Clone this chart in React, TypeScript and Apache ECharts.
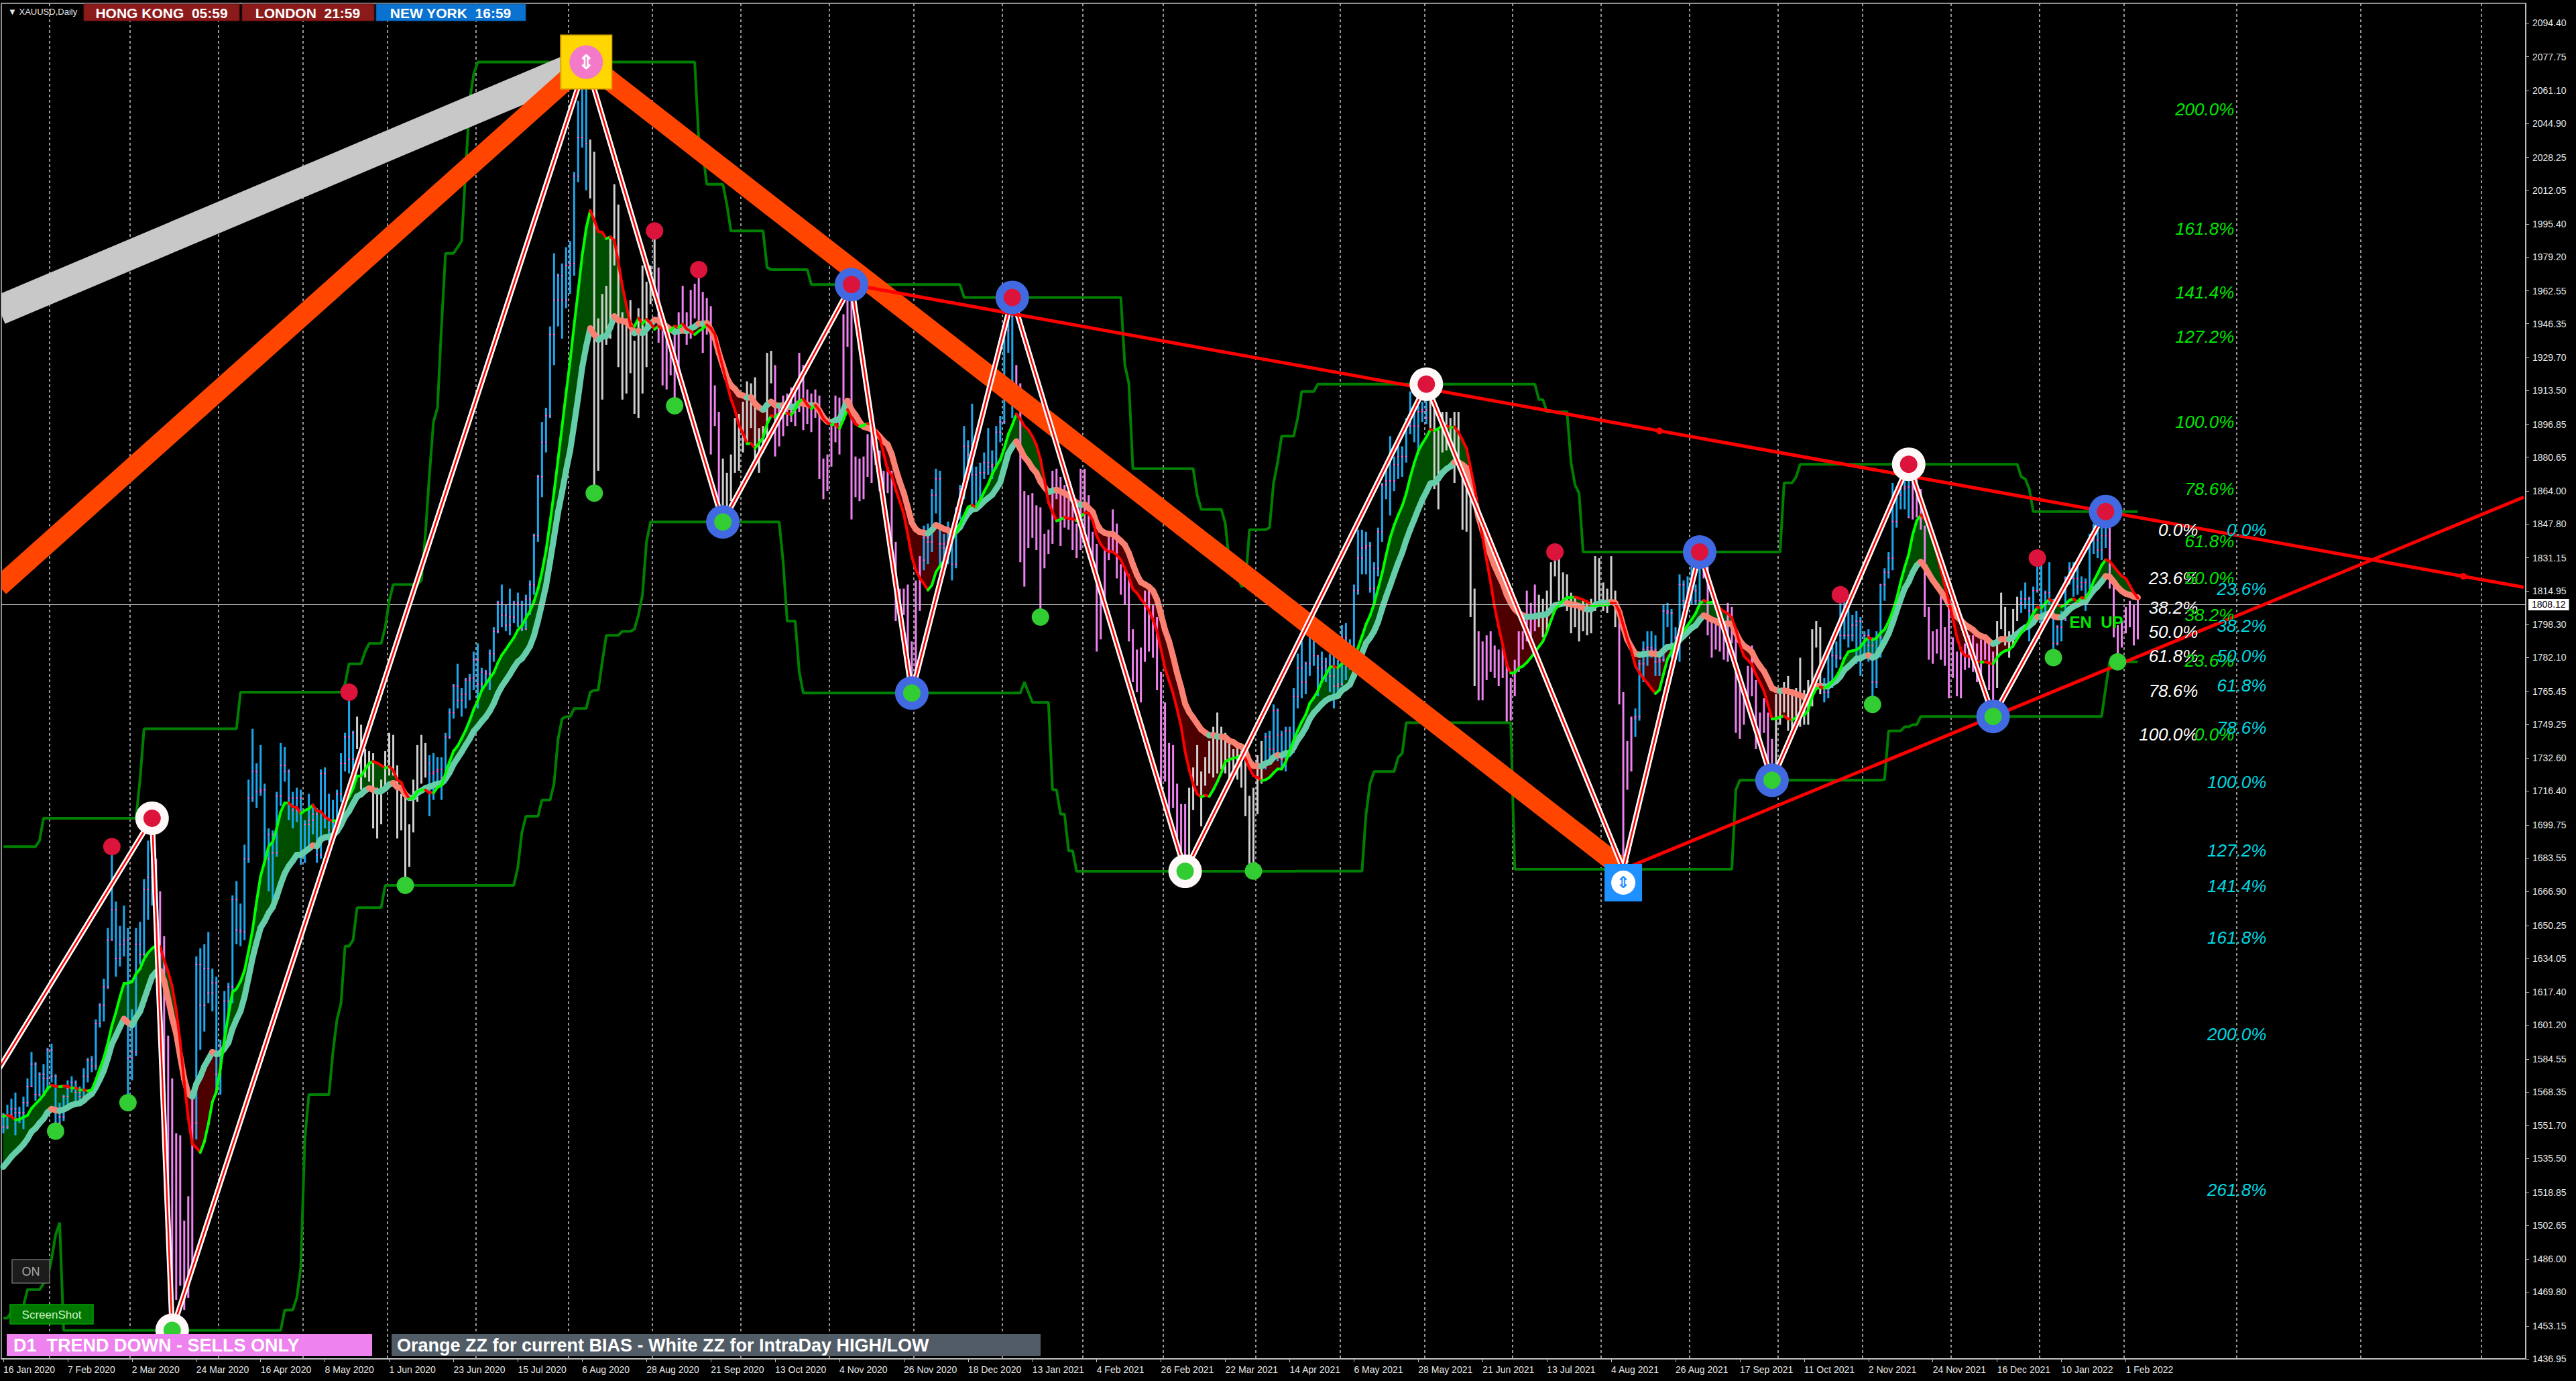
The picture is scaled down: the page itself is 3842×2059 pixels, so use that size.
import React, { useEffect, useRef } from "react";
import * as echarts from "echarts";

// ---------------- calendar ----------------
const SESSION_START = [2019, 11, 6]; // 6 Dec 2019 (warm-up bars used by the indicators)
const SESSION_END = [2022, 1, 4]; // 4 Feb 2022
const CLOSED_DAYS = ["2019-12-25", "2020-01-01", "2020-04-10", "2020-12-25", "2021-01-01", "2021-04-02", "2021-12-24"];
const WARMUP_COUNT = 27;
const FUTURE_SLOTS = 96;
const FUTURE_GRID_SLOTS = [556, 587, 617]; // 1 Mar, 1 Apr, 1 May 2022 in MT4's calendar-day projection
const MONTH_NAMES = ["Jan", "Feb", "Mar", "Apr", "May", "Jun", "Jul", "Aug", "Sep", "Oct", "Nov", "Dec"];

// ---------------- OHLC  [open, high, low, close] ----------------
const warmup = [
  [1474,1477,1459,1460],[1460,1465,1457,1462],[1462,1468,1460,1465],[1465,1477,1461,1475],[1475,1477,1464,1470],[1470,1480,1463,1476],
  [1476,1478,1472,1476],[1476,1479,1474,1476],[1476,1478,1472,1475],[1475,1481,1471,1479],[1479,1482,1474,1478],[1478,1489,1477,1487],
  [1487,1500,1486,1499],[1499,1512,1498,1511],[1511,1514,1505,1511],[1511,1519,1508,1515],[1515,1525,1511,1517],[1517,1530,1516,1528],
  [1528,1553,1525,1552],[1552,1582,1551,1566],[1566,1575,1557,1574],[1574,1611,1553,1556],[1556,1563,1536,1552],[1552,1563,1549,1562],
  [1562,1562,1545,1548],[1548,1549,1536,1545],[1545,1558,1543,1557],
];
const jan2020 = [
  [1557,1558,1548,1551],[1551,1562,1550,1557],[1557,1565,1556,1560],[1560,1568,1547,1558],[1558,1561,1553,1558],[1558,1566,1550,1563],
  [1563,1575,1561,1571],[1571,1588,1571,1582],[1582,1583,1564,1567],[1567,1578,1566,1577],[1577,1582,1567,1575],[1575,1590,1569,1589],
];
const feb2020 = [
  [1589,1592,1573,1576],[1576,1577,1549,1553],[1553,1563,1548,1556],[1556,1567,1554,1566],[1566,1574,1561,1570],[1570,1576,1568,1573],
  [1573,1574,1562,1568],[1568,1571,1562,1566],[1566,1580,1564,1576],[1576,1585,1573,1584],[1584,1586,1578,1581],[1581,1604,1579,1602],
  [1602,1612,1600,1611],[1611,1624,1603,1620],[1620,1649,1619,1643],[1643,1689,1643,1658],[1658,1662,1625,1634],[1634,1650,1630,1641],
  [1641,1660,1635,1643],[1643,1649,1563,1585],
];
const mar2020 = [
  [1585,1609,1574,1588],[1588,1649,1586,1641],[1641,1652,1631,1636],[1636,1673,1635,1668],[1668,1692,1653,1674],[1674,1703,1660,1679],
  [1679,1683,1637,1649],[1649,1667,1628,1635],[1635,1645,1560,1576],[1576,1596,1504,1529],[1529,1575,1451,1514],[1514,1548,1466,1526],
  [1526,1547,1473,1477],[1477,1505,1461,1470],[1470,1517,1467,1498],[1498,1566,1482,1553],[1553,1635,1545,1631],[1631,1639,1589,1611],
  [1611,1641,1598,1629],[1629,1647,1612,1617],[1617,1629,1608,1622],[1622,1625,1567,1577],
];
const apr2020 = [
  [1577,1594,1567,1591],[1591,1618,1588,1613],[1613,1622,1604,1620],[1620,1665,1612,1663],[1663,1672,1641,1648],[1648,1661,1640,1647],
  [1647,1690,1643,1683],[1683,1722,1681,1713],[1713,1747,1711,1726],[1726,1730,1708,1716],[1716,1739,1714,1717],[1717,1720,1680,1683],
  [1683,1698,1667,1695],[1695,1697,1659,1686],[1686,1716,1684,1714],[1714,1740,1709,1729],[1729,1738,1721,1726],[1726,1727,1702,1713],
  [1713,1716,1698,1707],[1707,1718,1701,1713],[1713,1717,1680,1686],
];
const may2020 = [
  [1686,1702,1681,1700],[1700,1715,1689,1702],[1702,1710,1695,1705],[1705,1708,1681,1685],[1685,1727,1683,1725],[1725,1728,1698,1703],
  [1703,1715,1691,1697],[1697,1712,1694,1701],[1701,1717,1698,1715],[1715,1735,1711,1730],[1730,1745,1726,1743],[1743,1765,1725,1732],
  [1732,1746,1726,1745],[1745,1753,1737,1747],[1747,1749,1717,1725],[1725,1737,1723,1735],[1735,1736,1721,1728],[1728,1735,1698,1709],
  [1709,1718,1693,1708],[1708,1722,1700,1718],[1718,1736,1717,1730],
];
const jun2020 = [
  [1730,1745,1724,1739],[1739,1744,1724,1727],[1727,1729,1693,1699],[1699,1715,1697,1714],[1714,1717,1670,1684],[1684,1700,1679,1697],
  [1697,1722,1696,1715],[1715,1739,1711,1737],[1737,1744,1720,1727],[1727,1740,1723,1730],[1730,1734,1704,1725],[1725,1735,1712,1726],
  [1726,1733,1718,1727],[1727,1733,1712,1723],[1723,1745,1720,1743],[1743,1757,1742,1755],[1755,1769,1752,1768],[1768,1779,1757,1761],
  [1761,1767,1753,1764],[1764,1772,1757,1771],[1771,1774,1761,1772],[1772,1785,1766,1781],
];
const jul2020 = [
  [1781,1789,1757,1769],[1769,1777,1765,1775],[1775,1776,1768,1774],[1774,1786,1766,1784],[1784,1797,1780,1795],[1795,1810,1794,1809],
  [1809,1818,1797,1803],[1803,1808,1795,1798],[1798,1816,1793,1802],[1802,1810,1799,1809],[1809,1814,1797,1808],[1808,1810,1795,1796],
  [1796,1813,1796,1811],[1811,1820,1803,1818],[1818,1843,1813,1842],[1842,1872,1839,1871],[1871,1898,1861,1888],[1888,1905,1883,1901],
  [1901,1945,1900,1941],[1941,1981,1926,1958],[1958,1971,1945,1970],[1970,1976,1939,1958],[1958,1984,1954,1975],
];
const aug2020 = [
  [1975,1987,1961,1976],[1976,2021,1970,2019],[2019,2056,2016,2038],[2038,2069,2033,2063],[2063,2075.1,2012,2035],[2035,2037,2008,2028],
  [2028,2031,1863,1911],[1911,1949,1874,1914],[1914,1961,1909,1954],[1954,1965,1936,1944],[1944,1989,1939,1985],[1985,2015,1975,2002],
  [2002,2005,1925,1929],[1929,1952,1909,1946],[1946,1949,1912,1940],[1940,1958,1922,1929],[1929,1938,1902,1907],[1907,1954,1900,1954],
  [1954,1975,1912,1929],[1929,1967,1925,1964],[1964,1975,1956,1968],
];
const sep2020 = [
  [1968,1992,1961,1970],[1970,1974,1937,1944],[1944,1948,1916,1931],[1931,1945,1914,1933],[1933,1937,1921,1929],[1929,1945,1906,1930],
  [1930,1952,1925,1947],[1947,1965,1942,1946],[1946,1952,1936,1940],[1940,1963,1939,1956],[1956,1966,1949,1954],[1954,1973,1948,1961],
  [1961,1962,1932,1944],[1944,1959,1941,1951],[1951,1955,1882,1912],[1912,1916,1896,1900],[1900,1903,1855,1862],[1862,1880,1848.8,1868],
  [1868,1873,1851,1861],[1861,1882,1859,1881],[1881,1900,1873,1898],[1898,1902,1874,1886],
];
const oct2020 = [
  [1886,1908,1883,1906],[1906,1918,1887,1899],[1899,1917,1895,1913],[1913,1920,1877,1877],[1877,1895,1873,1887],[1887,1896,1883,1893],
  [1893,1932,1890,1930],[1930,1933,1917,1922],[1922,1926,1881,1891],[1891,1906,1886,1903],[1903,1911,1891,1908],[1908,1912,1896,1899],
  [1899,1915,1898,1905],[1905,1916,1896,1907],[1907,1932,1903,1924],[1924,1926,1894,1904],[1904,1914,1897,1902],[1902,1912,1893,1902],
  [1902,1914,1900,1908],[1908,1911,1870,1878],[1878,1880,1860,1868],[1868,1882,1864,1879],
];
const nov2020 = [
  [1879,1897,1876,1894],[1894,1911,1888,1909],[1909,1910,1882,1904],[1904,1951,1902,1948],[1948,1960,1935,1951],[1951,1965.6,1850,1862],
  [1862,1881,1861,1877],[1877,1880,1859,1866],[1866,1881,1860,1873],[1873,1892,1871,1889],[1889,1898,1868,1887],[1887,1894,1877,1880],
  [1880,1884,1864,1871],[1871,1874,1857,1866],[1866,1876,1863,1871],[1871,1874,1829,1838],[1838,1839,1800,1806],[1806,1816,1805,1808],
  [1808,1816,1803,1811],[1811,1818,1775,1788],[1788,1790,1764.6,1777],
];
const dec2020 = [
  [1777,1820,1775,1815],[1815,1832,1805,1830],[1830,1847,1825,1841],[1841,1848,1828,1839],[1839,1865,1834,1862],[1862,1875,1853,1870],
  [1870,1874,1826,1838],[1838,1843,1823,1836],[1836,1849,1828,1839],[1839,1843,1820,1828],[1828,1856,1826,1855],[1855,1867,1850,1865],
  [1865,1896,1860,1886],[1886,1889,1876,1882],[1882,1907,1855,1872],[1872,1876,1856,1859],[1859,1878,1859,1873],[1873,1883,1870,1878],
  [1878,1895,1872,1876],[1876,1884,1870,1877],[1877,1896,1875,1893],[1893,1901,1888,1898],
];
const jan2021 = [
  [1898,1944,1897,1943],[1943,1952,1932,1950],[1950,1959.3,1900,1918],[1918,1926,1907,1913],[1913,1917,1829,1849],[1849,1864,1817,1844],
  [1844,1862,1836,1856],[1856,1863,1841,1845],[1845,1857,1835,1851],[1851,1856,1802,1828],[1828,1843,1826,1840],[1840,1845,1833,1840],
  [1840,1874,1838,1871],[1871,1875,1860,1869],[1869,1871,1837,1856],[1856,1867,1846,1855],[1855,1860,1845,1850],[1850,1857,1835,1843],
  [1843,1848,1831,1842],[1842,1875,1835,1847],
];
const feb2021 = [
  [1847,1875,1843,1860],[1860,1862,1831,1838],[1838,1844,1830,1835],[1835,1838,1785,1794],[1794,1816,1791,1814],[1814,1835,1808,1831],
  [1831,1843,1830,1838],[1838,1855,1834,1842],[1842,1848,1821,1826],[1826,1828,1813,1823],[1823,1826,1808,1819],[1819,1823,1790,1795],
  [1795,1796,1770,1775],[1775,1786,1765,1775],[1775,1787,1760,1784],[1784,1815,1780,1808],[1808,1817,1785,1805],[1805,1808,1782,1797],
  [1797,1802,1766,1770],[1770,1775,1717,1733],
];
const mar2021 = [
  [1733,1760,1721,1723],[1723,1740,1705,1737],[1737,1739,1708,1712],[1712,1720,1687,1697],[1697,1710,1687,1700],[1700,1710,1676.9,1683],
  [1683,1718,1682,1716],[1716,1728,1707,1726],[1726,1739,1719,1722],[1722,1726,1699,1719],[1719,1733,1719,1731],[1731,1741,1725,1731],
  [1731,1748,1723,1745],[1745,1755,1725,1736],[1736,1748,1727,1745],[1745,1745,1725,1738],[1738,1742,1720,1725],[1725,1737,1723,1734],
  [1734,1738,1722,1725],[1725,1736,1718,1732],[1732,1733,1704,1712],[1712,1714,1678,1684],[1684,1718,1677,1708],
];
const apr2021 = [
  [1708,1734,1705,1728],[1728,1741,1720,1728],[1728,1745,1727,1743],[1743,1746,1732,1737],[1737,1759,1734,1756],[1756,1757,1731,1744],
  [1744,1746,1727,1732],[1732,1748,1726,1746],[1746,1748,1733,1736],[1736,1767,1735,1763],[1763,1784,1757,1777],[1777,1790,1762,1770],
  [1770,1780,1764,1779],[1779,1797,1773,1793],[1793,1798,1778,1783],[1783,1783,1763,1777],[1777,1785,1771,1780],[1780,1782,1770,1778],
  [1778,1784,1765,1773],[1773,1790,1757,1768],[1768,1781,1763,1769],
];
const may2021 = [
  [1769,1798,1768,1792],[1792,1799,1771,1779],[1779,1791,1776,1784],[1784,1818,1781,1815],[1815,1845,1813,1831],[1831,1845,1823,1836],
  [1836,1844,1823,1837],[1837,1839,1814,1816],[1816,1829,1808,1826],[1826,1846,1822,1844],[1844,1868,1839,1867],[1867,1878,1860,1869],
  [1869,1891,1852,1869],[1869,1881,1864,1877],[1877,1890,1870,1881],[1881,1886,1871,1881],[1881,1900,1878,1898],[1898,1913,1892,1896],
  [1896,1904,1888,1896],[1896,1906,1882,1903],[1903,1908,1898,1904],
];
const jun2021 = [
  [1904,1916.6,1897,1900],[1900,1909,1895,1907],[1907,1909,1865,1871],[1871,1894,1855,1891],[1891,1903,1883,1899],[1899,1903,1884,1893],
  [1893,1900,1885,1888],[1888,1903,1868,1899],[1899,1903,1875,1877],[1877,1878,1845,1866],[1866,1867,1844,1859],[1859,1863,1802,1812],
  [1812,1816,1768,1774],[1774,1795,1761,1764],[1764,1790,1761,1782],[1782,1793,1771,1778],[1778,1795,1775,1779],[1779,1788,1772,1776],
  [1776,1786,1768,1781],[1781,1789,1772,1779],[1779,1780,1750,1761],[1761,1772,1751,1770],
];
const jul2021 = [
  [1770,1781,1763,1776],[1776,1795,1775,1787],[1787,1795,1786,1791],[1791,1815,1790,1796],[1796,1809,1792,1803],[1803,1818,1795,1803],
  [1803,1813,1797,1808],[1808,1811,1792,1805],[1805,1815,1794,1808],[1808,1829,1805,1825],[1825,1834,1822,1829],[1829,1832,1810,1812],
  [1812,1824,1808,1813],[1813,1823,1805,1810],[1810,1814,1794,1803],[1803,1812,1797,1806],[1806,1809,1790,1802],[1802,1810,1795,1797],
  [1797,1809,1793,1799],[1799,1811,1794,1806],[1806,1832,1805,1829],[1829,1831,1810,1814],
];
const aug2021 = [
  [1814,1819,1805,1813],[1813,1816,1804,1810],[1810,1832,1809,1813],[1813,1815,1797,1804],[1804,1805,1759,1763],[1763,1765,1677.9,1728],
  [1728,1741,1717,1730],[1730,1753,1726,1752],[1752,1757,1743,1753],[1753,1781,1751,1779],[1779,1790,1770,1786],[1786,1795,1778,1787],
  [1787,1795,1782,1786],[1786,1793,1773,1780],[1780,1784,1773,1781],[1781,1808,1780,1805],[1805,1809,1797,1804],[1804,1806,1782,1789],
  [1789,1797,1781,1792],[1792,1823,1780,1818],[1818,1820,1806,1810],[1810,1822,1805,1814],
];
const sep2021 = [
  [1814,1828,1808,1815],[1815,1818,1808,1810],[1810,1834,1809,1827],[1827,1831,1821,1823],[1823,1827,1793,1794],[1794,1802,1782,1789],
  [1789,1800,1786,1795],[1795,1801,1785,1787],[1787,1794,1781,1793],[1793,1809,1780,1804],[1804,1807,1789,1794],[1794,1795,1745,1754],
  [1754,1770,1742,1754],[1754,1767,1749,1764],[1764,1778,1760,1774],[1774,1788,1763,1768],[1768,1771,1737,1743],[1743,1755,1738,1750],
  [1750,1762,1745,1751],[1751,1755,1726,1734],[1734,1742,1721.7,1726],[1726,1764,1722,1757],
];
const oct2021 = [
  [1757,1766,1749,1761],[1761,1770,1755,1769],[1769,1773,1746,1760],[1760,1766,1746,1762],[1762,1767,1752,1756],[1756,1782,1748,1757],
  [1757,1766,1749,1754],[1754,1771,1749,1760],[1760,1796,1758,1793],[1793,1800,1787,1796],[1796,1797,1764,1768],[1768,1772,1760,1765],
  [1765,1785,1762,1769],[1769,1788,1767,1783],[1783,1790,1777,1782],[1782,1813,1781,1793],[1793,1810,1791,1807],[1807,1808,1787,1793],
  [1793,1803,1790,1798],[1798,1805,1779,1800],[1800,1802,1773,1783],
];
const nov2021 = [
  [1783,1795,1782,1793],[1793,1796,1780,1788],[1788,1792,1759,1770],[1770,1795,1767,1792],[1792,1818,1782,1818],[1818,1826,1810,1824],
  [1824,1834,1821,1831],[1831,1868,1825,1849],[1849,1866,1846,1862],[1862,1868,1855,1865],[1865,1871,1855,1866],[1866,1877.2,1851,1851],
  [1851,1871,1850,1868],[1868,1870,1851,1860],[1860,1865,1845,1846],[1846,1847,1802,1805],[1805,1807,1781,1790],[1790,1795,1779,1789],
  [1789,1796,1784,1792],[1792,1816,1781,1788],[1788,1797,1778,1785],[1785,1808,1762,1776],
];
const dec2021 = [
  [1776,1792,1772,1781],[1781,1785,1763,1768],[1768,1787,1762,1783],[1783,1789,1776,1779],[1779,1793,1777,1785],[1785,1793,1775,1783],
  [1783,1789,1770,1775],[1775,1791,1771,1782],[1782,1793,1781,1787],[1787,1792,1766,1771],[1771,1785,1753.1,1777],[1777,1800,1767,1799],
  [1799,1814,1796,1804],[1804,1807,1788,1791],[1791,1795,1782,1790],[1790,1806,1787,1803],[1803,1812,1800,1809],[1809,1815,1804,1811],
  [1811,1819,1806,1811],[1811,1812,1790,1805],[1805,1817,1800,1815],[1815,1831,1814,1829],
];
const jan2022 = [
  [1829,1831,1798,1801],[1801,1815,1799,1814],[1814,1829,1808,1810],[1810,1811,1782,1789],[1789,1798,1788,1797],[1797,1805,1790,1801],
  [1801,1822,1800,1821],[1821,1829,1818,1826],[1826,1829,1812,1821],[1821,1830,1813,1817],[1817,1822,1815,1819],[1819,1821,1805,1813],
  [1813,1843,1812,1841],[1841,1848,1833,1840],[1840,1847,1831,1835],[1835,1846,1830,1842],[1842,1853.9,1836,1848],[1848,1851,1816,1819],
  [1819,1820,1792,1796],[1796,1798,1780,1791],[1791,1800,1787,1797],
];
const feb2022 = [
  [1797,1807,1794,1801],[1801,1810,1797,1807],[1807,1808,1788,1804],[1804,1813,1791,1808.12],
];

// ---------------- price scale labels ----------------
const PRICE_TICKS = [
  2094.4, 2077.75, 2061.1, 2044.9, 2028.25, 2012.05, 1995.4, 1979.2, 1962.55, 1946.35, 1929.7, 1913.5, 1896.85, 1880.65,
  1864.0, 1847.8, 1831.15, 1814.95, 1798.3, 1782.1, 1765.45, 1749.25, 1732.6, 1716.4, 1699.75, 1683.55, 1666.9, 1650.25,
  1634.05, 1617.4, 1601.2, 1584.55, 1568.35, 1551.7, 1535.5, 1518.85, 1502.65, 1486.0, 1469.8, 1453.15, 1436.95,
];
const PRICE_MIN = 1436.95;
const PRICE_MAX = 2104.0;
const LABEL_EVERY = 16;

// ---------------- bar colouring: [first, last, 0 up | 1 down | 2 neutral] ----------------
const trendSegments = [
  [0, 37, 0], [38, 47, 1], [48, 87, 0], [88, 105, 2], [106, 145, 0], [146, 162, 2], [163, 178, 1], [179, 191, 2],
  [192, 228, 1], [229, 251, 0], [252, 294, 1], [295, 313, 2], [314, 354, 0], [355, 366, 2], [367, 381, 1], [382, 401, 2],
  [402, 405, 1], [406, 422, 0], [423, 440, 1], [441, 452, 2], [453, 474, 0], [475, 495, 1], [496, 501, 2], [502, 523, 0],
  [524, 531, 1],
];

// ---------------- zigzags (bar, "H"/"L" or explicit price) ----------------
const whiteZigzag = [[-1, 1580], [37, "H"], [42, "L"], [145, "H"], [179, "L"], [211, "H"], [226, "L"], [251, "H"], [294, "L"],
  [354, "H"], [403, "L"], [422, "H"], [440, "L"], [474, "H"], [495, "L"], [523, "H"]];
const orangeZigzag = [[-1, 1817], [145, "H"], [403, "L"]];
const grayZigzag = [[-1, 1953], [145, "H"]];
const trendDown = [[211, "H"], [523, "H"]];
const trendUp = [[403, "L"], [495, "L"]];
const trendAnchorDots = [412, 612];

// ---------------- swing markers ----------------
const ringsWhiteHigh = [37, 354, 474];
const ringsWhiteLow = [42, 294];
const ringsBlueHigh = [211, 251, 422, 523];
const ringsBlueLow = [179, 226, 440, 495];
const fractalHighs = [27, 86, 162, 173, 386, 457, 506];
const fractalLows = [13, 31, 100, 147, 167, 258, 311, 465, 510, 526];
const bigPeakBar = 145;
const bigLowBar = 403;

// ---------------- Fibonacci labels ----------------
const fibLevelsWhite = [0, 23.6, 38.2, 50, 61.8, 78.6, 100];
const fibLevelsGreen = [0, 23.6, 38.2, 50, 61.8, 78.6, 100, 127.2, 141.4, 161.8, 200];
const fibLevelsCyan = [0, 23.6, 38.2, 50, 61.8, 78.6, 100, 127.2, 141.4, 161.8, 200, 261.8];
const fibWhite = { p0: 1853.9, p100: 1753.1, slot: 546, color: "#FFFFFF" };
const fibGreen = { p0: 1753.1, p100: 1907.0, slot: 555, color: "#00E600" };
const fibCyan = { p0: 1853.9, p100: 1729.8, slot: 563, color: "#00D8E0" };
const statusText = { text: "EN  UP", slot: 514, price: 1799.4 };

// ---------------- indicator settings ----------------
const FAST_PERIOD = 10;
const SLOW_PERIOD = 20;
const CHANNEL_HALF = 27;

function buildCalendar() {
  const out = [];
  const start = Date.UTC(SESSION_START[0], SESSION_START[1], SESSION_START[2]);
  const end = Date.UTC(SESSION_END[0], SESSION_END[1], SESSION_END[2]);
  for (let t = start; t <= end; t += 86400000) {
    const d = new Date(t);
    const wd = d.getUTCDay();
    if (wd === 0 || wd === 6) continue;
    const iso = d.toISOString().slice(0, 10);
    if (CLOSED_DAYS.indexOf(iso) >= 0) continue;
    out.push({ y: d.getUTCFullYear(), m: d.getUTCMonth(), d: d.getUTCDate() });
  }
  return out;
}

export default function App() {
  const ref = useRef(null);
  useEffect(() => {
    document.body.style.margin = "0";
    document.body.style.background = "#000";
    const el = ref.current;
    if (!el) return;
    const chart = echarts.init(el, null, { renderer: "svg" });

    const all = [].concat(warmup, jan2020, feb2020, mar2020, apr2020, may2020, jun2020, jul2020, aug2020, sep2020, oct2020,
      nov2020, dec2020, jan2021, feb2021, mar2021, apr2021, may2021, jun2021, jul2021, aug2021, sep2021, oct2021, nov2021,
      dec2021, jan2022, feb2022);
    const cal = buildCalendar().slice(WARMUP_COUNT);
    const bars = all.slice(WARMUP_COUNT);
    const n = bars.length;
    const cats = [];
    const gridSlots = {};
    for (let i = 0; i < n; i++) {
      const c = cal[i] || { y: 0, m: 0, d: 0 };
      cats.push(c.d + " " + MONTH_NAMES[c.m] + " " + c.y);
      if (i > 0 && cal[i - 1] && cal[i - 1].m !== c.m) gridSlots[i] = true;
    }
    FUTURE_GRID_SLOTS.forEach((s) => { gridSlots[s] = true; });
    for (let k = 1; k <= FUTURE_SLOTS; k++) cats.push("+" + k);

    // indicators
    const closesAll = all.map((b) => b[3]);
    const fastAll = closesAll.map((_, i) => {
      const s = Math.max(0, i - FAST_PERIOD + 1);
      let sum = 0;
      for (let j = s; j <= i; j++) sum += closesAll[j];
      return sum / (i - s + 1);
    });
    const alpha = 2 / (SLOW_PERIOD + 1);
    const slowAll = [];
    closesAll.forEach((c, i) => slowAll.push(i === 0 ? c : slowAll[i - 1] + alpha * (c - slowAll[i - 1])));
    const fast = fastAll.slice(WARMUP_COUNT);
    const slow = slowAll.slice(WARMUP_COUNT);
    const upper = [];
    const lower = [];
    for (let i = 0; i < n; i++) {
      const g = i + WARMUP_COUNT;
      let hi = -Infinity, lo = Infinity;
      for (let j = Math.max(0, g - CHANNEL_HALF); j <= Math.min(all.length - 1, g + CHANNEL_HALF); j++) {
        hi = Math.max(hi, all[j][1]);
        lo = Math.min(lo, all[j][2]);
      }
      upper.push([i, hi]);
      lower.push([i, lo]);
    }

    const trend = new Array(n).fill(2);
    trendSegments.forEach(([a, b, t]) => { for (let i = a; i <= b && i < n; i++) trend[i] = t; });

    const resolve = (pts) => pts.map(([b, v]) => [b, v === "H" ? bars[b][1] : v === "L" ? bars[b][2] : v]);
    const extend = (pts, toSlot) => {
      const [a, b] = resolve(pts);
      const slope = (b[1] - a[1]) / (b[0] - a[0]);
      return [a, [toSlot, a[1] + slope * (toSlot - a[0])]];
    };
    const lastSlot = n + FUTURE_SLOTS - 1;
    const downLine = extend(trendDown, lastSlot);
    const upLine = extend(trendUp, lastSlot);
    const downSlope = (downLine[1][1] - downLine[0][1]) / (downLine[1][0] - downLine[0][0]);

    const clipOf = (params) => ({ type: "rect", shape: { x: params.coordSys.x, y: params.coordSys.y, width: params.coordSys.width, height: params.coordSys.height } });
    const BLUE = "#1AA8EE", VIOLET = "#EE82EE", NEUTRAL = "#D0D0D0";

    const lineData = [];
    for (let i = 1; i < n; i++) lineData.push([i, fast[i - 1], fast[i], slow[i - 1], slow[i]]);

    const fibTexts = (fib, levels) => levels.map((lv) => [fib.slot, fib.p0 + (fib.p100 - fib.p0) * lv / 100, lv]);

    const option = {
      animation: false,
      backgroundColor: "#000000",
      grid: { left: 2, right: 75, top: 5, bottom: 33, show: true, borderColor: "#BEBEBE", borderWidth: 1.5 },
      xAxis: {
        type: "category",
        data: cats,
        boundaryGap: true,
        axisLine: { show: true, lineStyle: { color: "#BEBEBE", width: 2 } },
        axisTick: { show: true, alignWithLabel: true, length: 5, interval: (i) => i % LABEL_EVERY === 0 && i < n, lineStyle: { color: "#BEBEBE" } },
        axisLabel: {
          show: true, interval: (i) => i % LABEL_EVERY === 0 && i < n, align: "left", color: "#E6E6E6", fontSize: 14,
          fontFamily: "Liberation Sans", margin: 9, formatter: (v) => (v.charAt(0) === "+" ? "" : v),
        },
        splitLine: { show: true, interval: (i) => !!gridSlots[i], lineStyle: { color: "#C8C8C8", width: 1.5, type: [4, 4] } },
      },
      yAxis: {
        type: "value",
        position: "right",
        min: PRICE_MIN,
        max: PRICE_MAX,
        axisLine: { show: true, lineStyle: { color: "#BEBEBE", width: 2 } },
        axisTick: { show: true, length: 5, customValues: PRICE_TICKS, lineStyle: { color: "#BEBEBE" } },
        axisLabel: { show: true, customValues: PRICE_TICKS, formatter: (v) => Number(v).toFixed(2), color: "#E6E6E6", fontSize: 14, fontFamily: "Liberation Sans", margin: 10 },
        splitLine: { show: false },
      },
      series: [
        {
          type: "custom", name: "ribbon", z: 1, silent: true,
          data: lineData, encode: { x: 0, y: [1, 2, 3, 4] },
          renderItem: (params, api) => {
            const i = api.value(0);
            const a = api.coord([i - 1, api.value(1)]), b = api.coord([i, api.value(2)]);
            const c = api.coord([i, api.value(4)]), d = api.coord([i - 1, api.value(3)]);
            const bull = api.value(2) >= api.value(4);
            const col = bull ? "#004E00" : "#4E0000";
            return { type: "polygon", shape: { points: [a, b, c, d] }, style: { fill: col, stroke: col, lineWidth: 1 } };
          },
        },
        {
          type: "custom", name: "bars", z: 2, silent: true,
          data: bars.map((b, i) => [i, b[0], b[1], b[2], b[3], trend[i]]),
          encode: { x: 0, y: [1, 2, 3, 4] },
          renderItem: (params, api) => {
            const i = api.value(0);
            const hi = api.coord([i, api.value(2)]);
            const lo = api.coord([i, api.value(3)]);
            const op = api.coord([i, api.value(1)]);
            const cl = api.coord([i, api.value(4)]);
            const t = api.value(5);
            const col = t === 0 ? BLUE : t === 1 ? VIOLET : NEUTRAL;
            const children = [{ type: "rect", shape: { x: hi[0] - 1.5, y: hi[1], width: 3, height: Math.max(1, lo[1] - hi[1]) }, style: { fill: col } }];
            if (t === 0) {
              children.push({ type: "rect", shape: { x: op[0] - 1.5, y: op[1] - 1, width: 3, height: 2 }, style: { fill: "#FF5FD2" } });
              children.push({ type: "rect", shape: { x: cl[0] - 1.5, y: cl[1] - 1, width: 3, height: 2 }, style: { fill: "#FF5FD2" } });
            }
            return { type: "group", children };
          },
        },
        {
          type: "custom", name: "slow", z: 3, silent: true,
          data: lineData, encode: { x: 0, y: [3, 4] },
          renderItem: (params, api) => {
            const i = api.value(0);
            const a = api.coord([i - 1, api.value(3)]), b = api.coord([i, api.value(4)]);
            const col = api.value(4) >= api.value(3) ? "#66CDAA" : "#FA8072";
            return { type: "line", shape: { x1: a[0], y1: a[1], x2: b[0], y2: b[1] }, style: { stroke: col, lineWidth: 9, lineCap: "round" } };
          },
        },
        {
          type: "custom", name: "fast", z: 4, silent: true,
          data: lineData, encode: { x: 0, y: [1, 2] },
          renderItem: (params, api) => {
            const i = api.value(0);
            const a = api.coord([i - 1, api.value(1)]), b = api.coord([i, api.value(2)]);
            const col = api.value(2) >= api.value(1) ? "#00FF00" : "#FF0000";
            return { type: "line", shape: { x1: a[0], y1: a[1], x2: b[0], y2: b[1] }, style: { stroke: col, lineWidth: 4, lineCap: "round" } };
          },
        },
        {
          type: "line", name: "channelTop", z: 5, silent: true, data: upper, showSymbol: false, symbol: "none",
          lineStyle: { color: "#008000", width: 4 },
          markLine: {
            silent: true, symbol: "none", animation: false,
            data: [{ yAxis: feb2022[feb2022.length - 1][3] }],
            lineStyle: { color: "#C8C8C8", width: 1, type: "solid" },
            label: { show: true, position: "end", distance: 4, formatter: () => feb2022[feb2022.length - 1][3].toFixed(2), backgroundColor: "#FFFFFF", color: "#000000", padding: [2, 5, 1, 5], fontSize: 14, fontFamily: "Liberation Sans" },
          },
        },
        {
          type: "line", name: "channelBottom", z: 5, silent: true, data: lower, showSymbol: false, symbol: "none",
          lineStyle: { color: "#008000", width: 4 },
        },
        {
          type: "custom", name: "zigzags", z: 6, silent: true,
          data: [[0, 1800]], encode: { x: 0, y: 1 },
          renderItem: (params, api) => {
            const pts = (arr) => resolve(arr).map((p) => api.coord(p));
            const w = pts(whiteZigzag);
            return {
              type: "group", clipPath: clipOf(params),
              children: [
                { type: "polyline", shape: { points: pts(grayZigzag) }, style: { stroke: "#C8C8C8", lineWidth: 44, fill: null, lineCap: "butt" } },
                { type: "polyline", shape: { points: pts(orangeZigzag) }, style: { stroke: "#FF4500", lineWidth: 30, fill: null, lineJoin: "round", lineCap: "butt" } },
                { type: "polyline", shape: { points: w }, style: { stroke: "#FFFFFF", lineWidth: 8, fill: null, lineJoin: "miter" } },
                { type: "polyline", shape: { points: w }, style: { stroke: "#FF0000", lineWidth: 2.5, fill: null, lineJoin: "miter" } },
              ],
            };
          },
        },
        {
          type: "custom", name: "trendlines", z: 7, silent: true,
          data: [[0, 1800]], encode: { x: 0, y: 1 },
          renderItem: (params, api) => {
            const d = downLine.map((p) => api.coord(p));
            const u = upLine.map((p) => api.coord(p));
            const dots = trendAnchorDots.map((b) => {
              const p = api.coord([b, downLine[0][1] + downSlope * (b - downLine[0][0])]);
              return { type: "circle", shape: { cx: p[0], cy: p[1], r: 5 }, style: { fill: "#FF0000" } };
            });
            return {
              type: "group", clipPath: clipOf(params),
              children: [
                { type: "line", shape: { x1: d[0][0], y1: d[0][1], x2: d[1][0], y2: d[1][1] }, style: { stroke: "#FF0000", lineWidth: 5 } },
                { type: "line", shape: { x1: u[0][0], y1: u[0][1], x2: u[1][0], y2: u[1][1] }, style: { stroke: "#FF0000", lineWidth: 5 } },
              ].concat(dots),
            };
          },
        },
        {
          type: "custom", name: "markers", z: 8, silent: true,
          data: [[0, 1800]], encode: { x: 0, y: 1 },
          renderItem: (params, api) => {
            const kids = [];
            const ring = (bar, isHigh, ringCol) => {
              const p = api.coord([bar, isHigh ? bars[bar][1] : bars[bar][2]]);
              kids.push({ type: "circle", shape: { cx: p[0], cy: p[1], r: 25 }, style: { fill: ringCol } });
              kids.push({ type: "circle", shape: { cx: p[0], cy: p[1], r: 13 }, style: { fill: isHigh ? "#DC143C" : "#32CD32" } });
            };
            fractalHighs.forEach((b) => { const p = api.coord([b, bars[b][1]]); kids.push({ type: "circle", shape: { cx: p[0], cy: p[1], r: 13 }, style: { fill: "#DC143C" } }); });
            fractalLows.forEach((b) => { const p = api.coord([b, bars[b][2]]); kids.push({ type: "circle", shape: { cx: p[0], cy: p[1], r: 13 }, style: { fill: "#32CD32" } }); });
            ringsWhiteHigh.forEach((b) => ring(b, true, "#FFF8F8"));
            ringsWhiteLow.forEach((b) => ring(b, false, "#FFF8F8"));
            ringsBlueHigh.forEach((b) => ring(b, true, "#4169E1"));
            ringsBlueLow.forEach((b) => ring(b, false, "#4169E1"));
            // peak box
            const pk = api.coord([bigPeakBar, bars[bigPeakBar][1]]);
            kids.push({ type: "rect", shape: { x: pk[0] - 38, y: pk[1] - 40, width: 76, height: 80 }, style: { fill: "#FFD700", stroke: "#E0A800", lineWidth: 2 } });
            kids.push({ type: "circle", shape: { cx: pk[0], cy: pk[1], r: 25 }, style: { fill: "#F27AC8" } });
            kids.push({ type: "text", x: pk[0], y: pk[1], style: { text: "⇕", fill: "#FFFFFF", font: "bold 30px 'DejaVu Sans'", align: "center", verticalAlign: "middle" } });
            // low box
            const lw = api.coord([bigLowBar, bars[bigLowBar][2]]);
            kids.push({ type: "rect", shape: { x: lw[0] - 28, y: lw[1] - 8, width: 56, height: 56 }, style: { fill: "#1E90FF" } });
            kids.push({ type: "circle", shape: { cx: lw[0], cy: lw[1] + 20, r: 18 }, style: { fill: "#FFFFFF" } });
            kids.push({ type: "text", x: lw[0], y: lw[1] + 20, style: { text: "⇕", fill: "#1E90FF", font: "bold 24px 'DejaVu Sans'", align: "center", verticalAlign: "middle" } });
            return { type: "group", children: kids };
          },
        },
        {
          type: "custom", name: "labels", z: 9, silent: true,
          data: [[0, 1800]], encode: { x: 0, y: 1 },
          renderItem: (params, api) => {
            const kids = [];
            const addFib = (fib, levels) => fibTexts(fib, levels).forEach(([slot, price, lv]) => {
              const p = api.coord([slot, price]);
              kids.push({ type: "text", x: p[0], y: p[1] + 27, style: { text: lv.toFixed(1) + "%", fill: fib.color, font: "italic 26px 'Liberation Sans'", align: "right", verticalAlign: "middle", stroke: "#000000", lineWidth: 1 } });
            });
            addFib(fibWhite, fibLevelsWhite);
            addFib(fibGreen, fibLevelsGreen);
            addFib(fibCyan, fibLevelsCyan);
            const s = api.coord([statusText.slot, statusText.price]);
            kids.push({ type: "text", x: s[0], y: s[1], style: { text: statusText.text, fill: "#00E600", font: "bold 24px 'Liberation Sans'", align: "left", verticalAlign: "middle" } });
            return { type: "group", children: kids };
          },
        },
      ],
      graphic: [
        { type: "text", x: 12, y: 11, z: 100, style: { text: "▼ XAUUSD,Daily", fill: "#E6E6E6", font: "13px 'Liberation Sans'" } },
        { type: "rect", x: 125, y: 6, z: 100, shape: { width: 232, height: 25 }, style: { fill: "#8B1A1A", stroke: "#6A1010", lineWidth: 1 } },
        { type: "text", x: 241, y: 19, z: 101, style: { text: "HONG KONG  05:59", fill: "#FFFFFF", font: "bold 21px 'Liberation Sans Narrow', 'Liberation Sans'", align: "center", verticalAlign: "middle" } },
        { type: "rect", x: 361, y: 6, z: 100, shape: { width: 197, height: 25 }, style: { fill: "#8B1A1A", stroke: "#6A1010", lineWidth: 1 } },
        { type: "text", x: 459, y: 19, z: 101, style: { text: "LONDON  21:59", fill: "#FFFFFF", font: "bold 21px 'Liberation Sans Narrow', 'Liberation Sans'", align: "center", verticalAlign: "middle" } },
        { type: "rect", x: 561, y: 6, z: 100, shape: { width: 223, height: 25 }, style: { fill: "#0A72D0", stroke: "#08549A", lineWidth: 1 } },
        { type: "text", x: 672, y: 19, z: 101, style: { text: "NEW YORK  16:59", fill: "#FFFFFF", font: "bold 21px 'Liberation Sans Narrow', 'Liberation Sans'", align: "center", verticalAlign: "middle" } },
        { type: "rect", x: 18, y: 1878, z: 100, shape: { width: 56, height: 35 }, style: { fill: "#1C1C1C", stroke: "#6A6A6A", lineWidth: 1.5 } },
        { type: "text", x: 46, y: 1896, z: 101, style: { text: "ON", fill: "#A8A8A8", font: "18px 'Liberation Sans'", align: "center", verticalAlign: "middle" } },
        { type: "rect", x: 15, y: 1945, z: 100, shape: { width: 124, height: 29 }, style: { fill: "#007800", stroke: "#00A000", lineWidth: 1.5 } },
        { type: "text", x: 77, y: 1960, z: 101, style: { text: "ScreenShot", fill: "#C8F0C8", font: "17px 'Liberation Sans'", align: "center", verticalAlign: "middle" } },
        { type: "rect", x: 10, y: 1989, z: 100, shape: { width: 545, height: 33 }, style: { fill: "#EE82EE" } },
        { type: "text", x: 20, y: 2006, z: 101, style: { text: "D1  TREND DOWN - SELLS ONLY", fill: "#FFFFFF", font: "bold 27px 'Liberation Sans'", align: "left", verticalAlign: "middle" } },
        { type: "rect", x: 584, y: 1989, z: 100, shape: { width: 968, height: 33 }, style: { fill: "#525C66" } },
        { type: "text", x: 592, y: 2006, z: 101, style: { text: "Orange ZZ for current BIAS - White ZZ for IntraDay HIGH/LOW", fill: "#FFFFFF", font: "bold 27px 'Liberation Sans'", align: "left", verticalAlign: "middle" } },
      ],
    };
    chart.setOption(option);
    return () => chart.dispose();
  }, []);
  return <div ref={ref} style={{ position: "fixed", left: 0, top: 0, width: "3842px", height: "2059px" }} />;
}
